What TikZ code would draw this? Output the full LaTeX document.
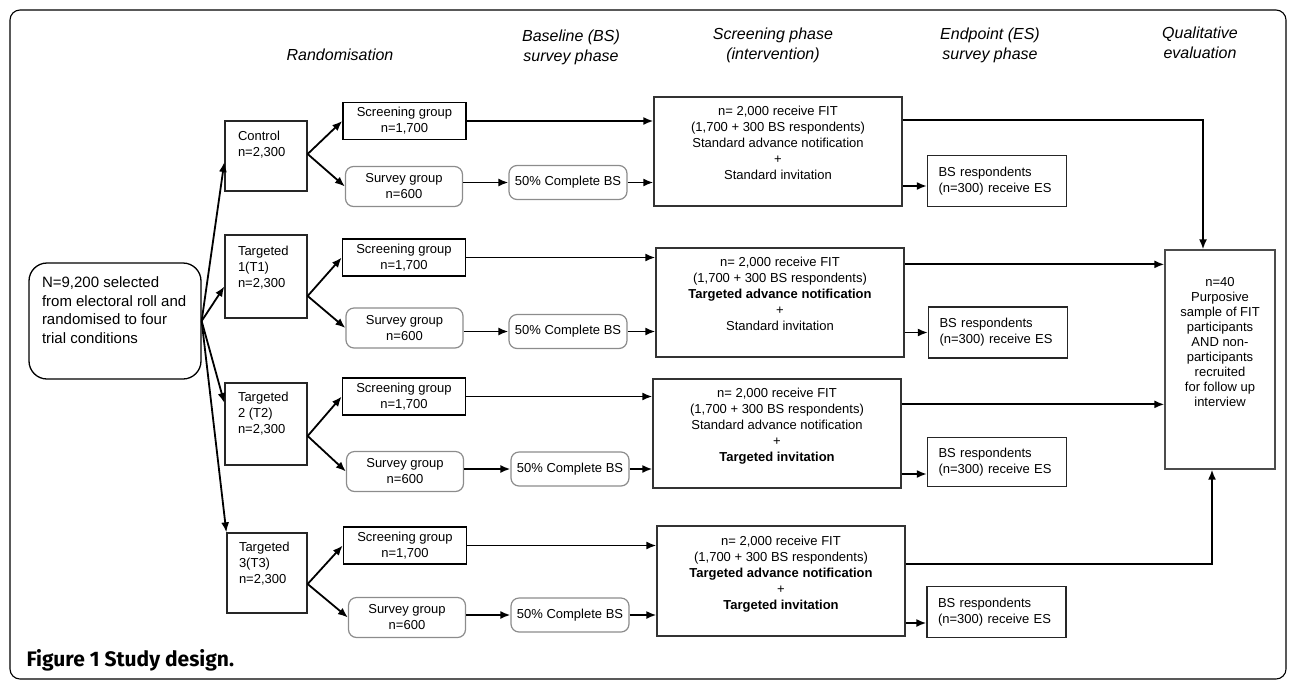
\documentclass[tikz,border=0pt]{standalone}
\usepackage{fontspec}
\setmainfont{Liberation Sans}
\newfontfamily\capfont{Fira Sans}
\usetikzlibrary{shapes,arrows.meta,positioning}

\newcommand{\topbox}[3]{\parbox[c][#2][t]{#1}{\raggedright #3}}
\newcommand{\topmid}[3]{\parbox[c][#2][t]{#1}{\centering #3}}

\begin{document}
\begin{tikzpicture}[x=1pt, y=-1pt]

    \tikzstyle{phase} = [
        font=\fontsize{16}{20}\selectfont\itshape,
        align=center
    ]
    \tikzstyle{armbox} = [
        rectangle,
        draw=black!85,
        line width=1.3pt,
        minimum width=82pt,
        inner sep=0pt,
        font=\fontsize{13}{16}\selectfont
    ]
    \tikzstyle{screenbox} = [
        rectangle,
        draw,
        line width=1.6pt,
        minimum width=123pt,
        minimum height=37pt,
        inner sep=0pt,
        align=center,
        font=\fontsize{13}{16}\selectfont
    ]
    \tikzstyle{surveybox} = [
        rectangle,
        rounded corners=8pt,
        draw=black!45,
        line width=1.2pt,
        minimum width=117pt,
        minimum height=40pt,
        inner sep=0pt,
        align=center,
        font=\fontsize{13}{16}\selectfont
    ]
    \tikzstyle{bsbox} = [
        surveybox,
        minimum width=118pt,
        minimum height=34pt
    ]
    \tikzstyle{fitbox} = [
        rectangle,
        draw=black!80,
        line width=1.3pt,
        minimum width=248pt,
        minimum height=109pt,
        inner sep=0pt,
        font=\fontsize{13}{16}\selectfont
    ]
    \tikzstyle{esbox} = [
        rectangle,
        draw=black!85,
        line width=1.3pt,
        minimum width=139pt,
        minimum height=51pt,
        inner sep=0pt,
        text width=117pt,
        align=left,
        font=\fontsize{13}{16}\selectfont
    ]
    \tikzstyle{line} = [
        draw,
        line width=1.8pt,
        -{Latex[length=10pt,width=8pt]},
    ]

    \useasboundingbox (0,0) rectangle (1290,681);
    \draw[line width=1.1pt, rounded corners=10pt] (10,10) rectangle (1286,679);

    % column headings
    \node [phase] (hrand) at (340,55) {Randomisation};
    \node [phase] (hbase) at (571,47) {Baseline (BS)\\survey phase};
    \node [phase] (hscr)  at (773,45) {Screening phase\\(intervention)};
    \node [phase] (hend)  at (990,45) {Endpoint (ES)\\survey phase};
    \node [phase] (hqual) at (1200,43) {Qualitative\\evaluation};

    \node [rectangle, rounded corners=18pt, draw, line width=1.3pt,
        minimum width=172pt, minimum height=116pt, inner sep=0pt,
        font=\fontsize{15}{18.5}\selectfont
    ](pop) at (115,321) {\topbox{146pt}{88pt}{N=9,200 selected\\from electoral roll and\\randomised to four\\trial conditions}};

    % trial arms
    \node [armbox, minimum height=70pt](ctl) at (266,156)
        {\topbox{56pt}{50pt}{Control\\n=2,300}};
    \node [armbox, minimum height=83pt](tone) at (266,276.5)
        {\topbox{56pt}{61pt}{Targeted\\1(T1)\\n=2,300}};
    \node [armbox, minimum height=82pt](ttwo) at (266,424)
        {\topbox{56pt}{64pt}{Targeted\\2 (T2)\\n=2,300}};
    \node [armbox, minimum width=80pt, minimum height=80pt](tthree) at (267,573)
        {\topbox{56pt}{62pt}{Targeted\\3(T3)\\n=2,300}};

    \node [screenbox](scrc) at (404.5,121) {Screening group\\n=1,700};
    \node [surveybox](surc) at (404,186.5) {Survey group\\n=600};
    \node [bsbox](bsc) at (568,182.5) {50\% Complete BS};
    \node [fitbox](fitc) at (778,151.5) {\topmid{232pt}{90pt}{n= 2,000 receive FIT\\(1,700 + 300 BS respondents)\\Standard advance notification\\+\\Standard invitation}};
    \node [esbox](esc) at (997,181) {BS respondents\\(n=300) receive ES};

    \node [screenbox](scrone) at (404,257.5) {Screening group\\n=1,700};
    \node [surveybox](surone) at (404.5,328) {Survey group\\n=600};
    \node [bsbox](bsone) at (568,331.5) {50\% Complete BS};
    \node [fitbox](fitone) at (780,302.5) {\topmid{232pt}{90pt}{n= 2,000 receive FIT\\(1,700 + 300 BS respondents)\\\textbf{Targeted advance notification}\\+\\Standard invitation}};
    \node [esbox](esone) at (998,332.5) {BS respondents\\(n=300) receive ES};

    \node [screenbox](scrtwo) at (404,396.5) {Screening group\\n=1,700};
    \node [surveybox](surtwo) at (405,471.5) {Survey group\\n=600};
    \node [bsbox](bstwo) at (570,469) {50\% Complete BS};
    \node [fitbox](fittwo) at (777,433.5) {\topmid{232pt}{90pt}{n= 2,000 receive FIT\\(1,700 + 300 BS respondents)\\Standard advance notification\\+\\\textbf{Targeted invitation}}};
    \node [esbox, minimum height=49pt](estwo) at (997,462) {BS respondents\\(n=300) receive ES};

    \node [screenbox](scrthree) at (405,545.5) {Screening group\\n=1,700};
    \node [surveybox](surthree) at (407,617.5) {Survey group\\n=600};
    \node [bsbox](bsthree) at (570,615) {50\% Complete BS};
    \node [fitbox, minimum height=110pt](fitthree) at (781,581) {\topmid{232pt}{90pt}{n= 2,000 receive FIT\\(1,700 + 300 BS respondents)\\\textbf{Targeted advance notification}\\+\\\textbf{Targeted invitation}}};
    \node [esbox](esthree) at (996.5,612) {BS respondents\\(n=300) receive ES};

    \node [rectangle, draw=black!70, line width=1.3pt, minimum width=110pt,
        minimum height=219pt, inner sep=0pt,
        font=\fontsize{13}{15}\selectfont
    ](qual) at (1220,359.5) {\topmid{104pt}{165pt}{n=40\\Purposive\\sample of FIT\\participants\\AND non-\\participants\\recruited\\for follow up\\interview}};

    \node [anchor=west, font=\capfont\bfseries\fontsize{21}{25}\selectfont](cap) at (23,660) {Figure 1 Study design.};

    % randomisation
    \path [line] (pop.east) -- ([yshift=-6pt]ctl.west);
    \path [line] (pop.east) -- ([yshift=-10pt]tone.west);
    \path [line] (pop.east) -- ([yshift=21pt]ttwo.west);
    \path [line] (pop.east) -- (tthree.north west);

    \path [line] ([yshift=2pt]ctl.east) -- (scrc.west);
    \path [line] ([yshift=2pt]ctl.east) -- (surc.west);
    \path [line] ([yshift=-19.5pt]tone.east) -- (scrone.west);
    \path [line] ([yshift=-19.5pt]tone.east) -- (surone.west);
    \path [line] ([yshift=-12pt]ttwo.east) -- (scrtwo.west);
    \path [line] ([yshift=-12pt]ttwo.east) -- (surtwo.west);
    \path [line] ([yshift=-11pt]tthree.east) -- (scrthree.west);
    \path [line] ([yshift=-11pt]tthree.east) -- (surthree.west);

    % control row
    \path [line] (scrc.east) -- (scrc.east -| fitc.west);
    \path [line] (bsc.west -| surc.east) -- (bsc.west);
    \path [line] (bsc.east) -- (bsc.east -| fitc.west);
    \path [line] ([yshift=-5pt]esc.west -| fitc.east) -- ([yshift=-5pt]esc.west);
    \path [line] ([yshift=-24pt]fitc.north east) -| ([xshift=-17pt]qual.north);

    % T1 row
    \path [line] (scrone.east) -- (scrone.east -| fitone.west);
    \path [line] (bsone.west -| surone.east) -- (bsone.west);
    \path [line] (bsone.east) -- (bsone.east -| fitone.west);
    \path [line] (esone.west -| fitone.east) -- (esone.west);
    \path [line] ([yshift=-17pt]fitone.north east) -- ([yshift=-17pt]fitone.north east -| qual.west);

    % T2 row
    \path [line] (scrtwo.east) -- (scrtwo.east -| fittwo.west);
    \path [line] (bstwo.west -| surtwo.east) -- (bstwo.west);
    \path [line] (bstwo.east) -- (bstwo.east -| fittwo.west);
    \path [line] ([yshift=-12pt]estwo.west -| fittwo.east) -- ([yshift=-12pt]estwo.west);
    \path [line] ([yshift=-26pt]fittwo.north east) -- ([yshift=-26pt]fittwo.north east -| qual.west);

    % T3 row
    \path [line] (scrthree.east) -- (scrthree.east -| fitthree.west);
    \path [line] (bsthree.west -| surthree.east) -- (bsthree.west);
    \path [line] (bsthree.east) -- (bsthree.east -| fitthree.west);
    \path [line] ([yshift=-11pt]esthree.west -| fitthree.east) -- ([yshift=-11pt]esthree.west);
    \path [line] ([yshift=-39pt]fitthree.north east) -| ([xshift=-8pt]qual.south);

\end{tikzpicture}
\end{document}
